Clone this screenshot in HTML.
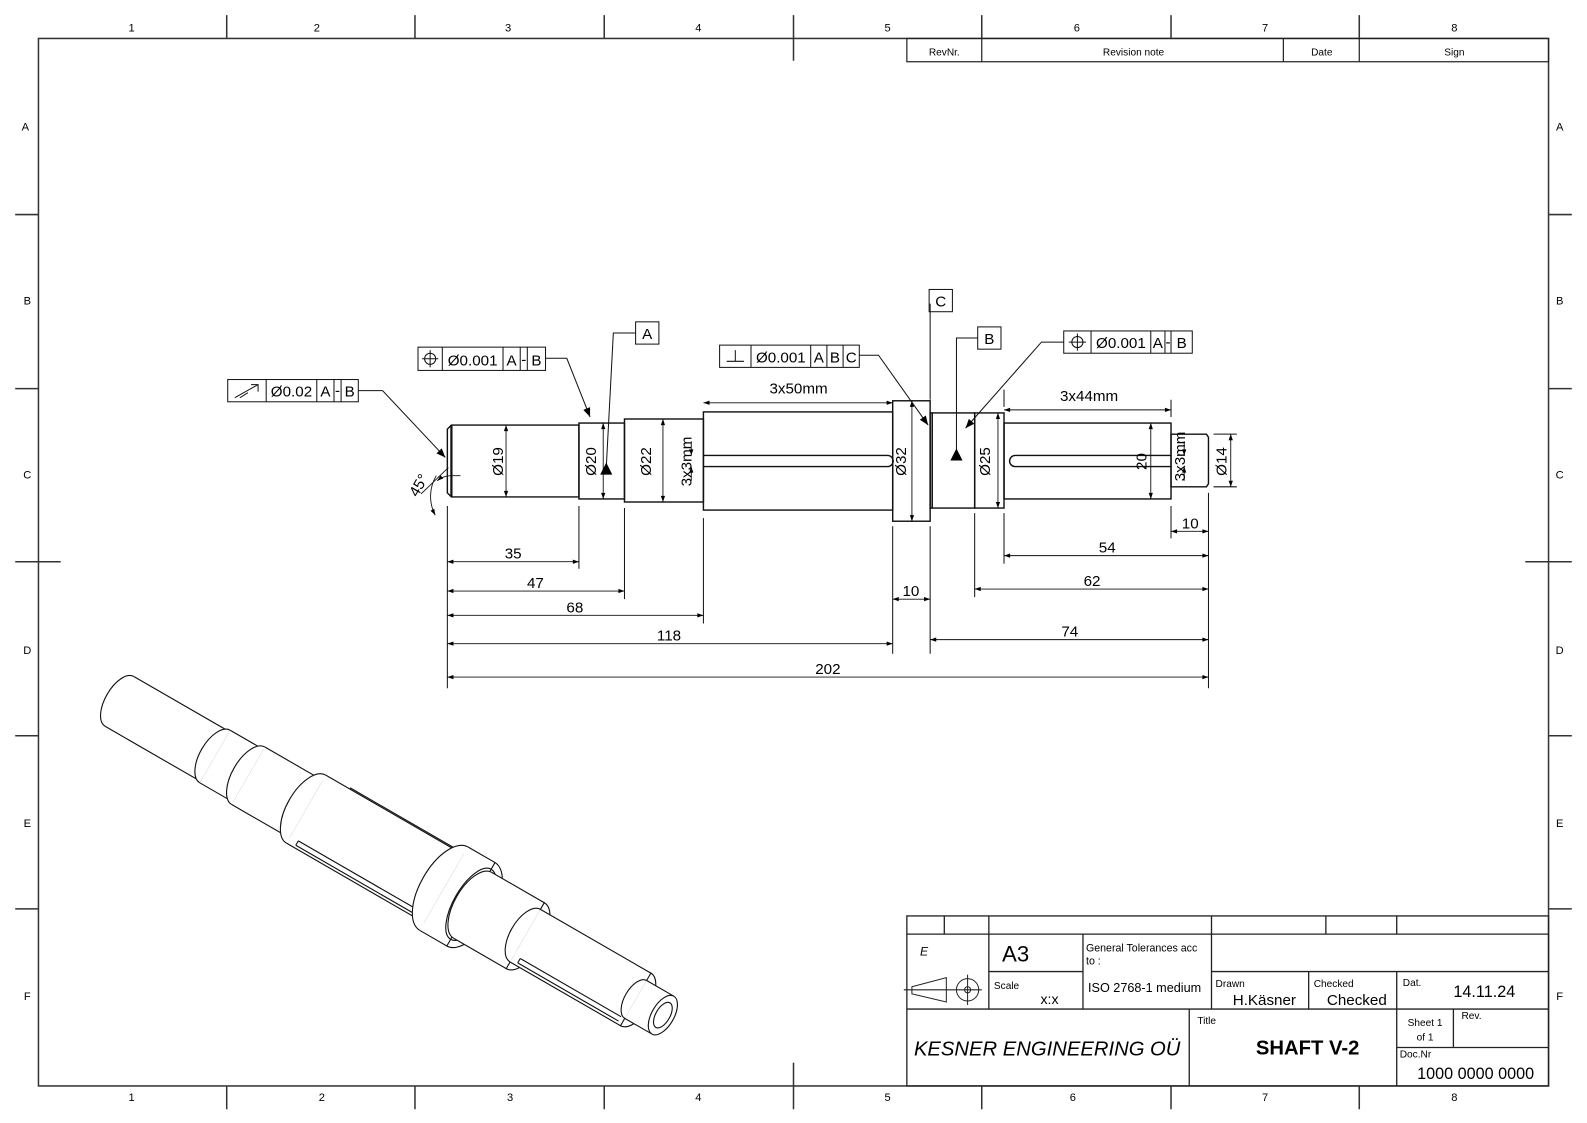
<!DOCTYPE html>
<html><head><meta charset="utf-8"><style>
html,body{margin:0;padding:0;background:#fff}
svg{display:block}
text{font-family:"Liberation Sans",Arial,sans-serif;fill:#000}
</style></head><body>
<svg width="1587" height="1123" viewBox="0 0 1568 1109.6" preserveAspectRatio="none" xmlns="http://www.w3.org/2000/svg">
<defs>
<marker id="a" viewBox="0 0 10 10" refX="10" refY="5" markerWidth="9" markerHeight="6" orient="auto-start-reverse" markerUnits="userSpaceOnUse"><path d="M0,1.5 L10,5 L0,8.5z" fill="#000"/></marker>
<marker id="b" viewBox="0 0 10 10" refX="10" refY="5" markerWidth="12" markerHeight="9" orient="auto" markerUnits="userSpaceOnUse"><path d="M0,1 L10,5 L0,9z" fill="#000"/></marker>
</defs>
<rect width="1568" height="1110" fill="#fff"/>
<!-- frame -->
<g stroke="#333" stroke-width="1.5" fill="none">
<rect x="38" y="38" width="1492" height="1035"/>
<path d="M224 15V38M410 15V38M597 15V38M784 15V60M970 15V38M1157 15V38M1343 15V38"/>
<path d="M224 1073V1096M410 1073V1096M597 1073V1096M784 1050V1096M970 1073V1096M1157 1073V1096M1343 1073V1096"/>
<path d="M15 212H38M15 384H38M15 555H60M15 727H38M15 898H38"/>
<path d="M1530 212H1553M1530 384H1553M1507 555H1553M1530 727H1553M1530 898H1553"/>
</g>
<g font-size="11" text-anchor="middle">
<text x="130" y="31">1</text><text x="313" y="31">2</text><text x="502" y="31">3</text><text x="690" y="31">4</text><text x="877" y="31">5</text><text x="1064" y="31">6</text><text x="1250" y="31">7</text><text x="1437" y="31">8</text>
<text x="130" y="1088">1</text><text x="318" y="1088">2</text><text x="504" y="1088">3</text><text x="690" y="1088">4</text><text x="877" y="1088">5</text><text x="1060" y="1088">6</text><text x="1250" y="1088">7</text><text x="1437" y="1088">8</text>
<text x="25" y="129">A</text><text x="27" y="301">B</text><text x="27" y="473">C</text><text x="27" y="646">D</text><text x="27" y="817">E</text><text x="27" y="988">F</text>
<text x="1541" y="129">A</text><text x="1541" y="301">B</text><text x="1541" y="473">C</text><text x="1541" y="646">D</text><text x="1541" y="817">E</text><text x="1541" y="988">F</text>
</g>
<!-- revision table -->
<g stroke="#222" stroke-width="1.2" fill="none"><rect x="896" y="38" width="634" height="23"/><path d="M970 38V61M1268 38V61M1343 38V61"/></g>
<g font-size="10" text-anchor="middle"><text x="933" y="55">RevNr.</text><text x="1120" y="55">Revision note</text><text x="1306" y="55">Date</text><text x="1437" y="55">Sign</text></g>

<!-- title block -->
<g stroke="#222" stroke-width="1.3" fill="none">
<rect x="896" y="905" width="634" height="168"/>
<path d="M896 923H1530M896 997H1530M977 960H1070M1197 960H1530"/>
<path d="M933 905V923M977 905V997M1197 905V997M1310 905V923M1380 905V923M1070 923V997M1293 960V997M1380 960V1073M1175 997V1073M1380 1035H1530M1436 997V1035"/>
<path d="M901 975L935 966V990L901 982ZM893 978H970M956 963V993" stroke-width="1"/>
<circle cx="956" cy="978" r="11" stroke-width="1"/><circle cx="956" cy="978" r="3" stroke-width="1"/>
</g>
<text x="909" y="944" font-size="12" font-style="italic">E</text>
<text x="990" y="950" font-size="22">A3</text>
<text x="982" y="977" font-size="10">Scale</text>
<text x="1028" y="992" font-size="14">x:x</text>
<text x="1073" y="940" font-size="10.5">General Tolerances acc</text>
<text x="1073" y="953" font-size="10.5">to :</text>
<text x="1075" y="980" font-size="12.5">ISO 2768-1 medium</text>
<text x="1201" y="975" font-size="10">Drawn</text>
<text x="1218" y="993" font-size="15">H.Käsner</text>
<text x="1298" y="975" font-size="10">Checked</text>
<text x="1311" y="993" font-size="15">Checked</text>
<text x="1386" y="974" font-size="10">Dat.</text>
<text x="1436" y="985" font-size="16">14.11.24</text>
<text x="1183" y="1012" font-size="10">Title</text>
<text x="1292" y="1042" font-size="20" font-weight="bold" text-anchor="middle">SHAFT V-2</text>
<text x="1408" y="1014" font-size="10" text-anchor="middle">Sheet 1</text>
<text x="1408" y="1028" font-size="10" text-anchor="middle">of 1</text>
<text x="1444" y="1007" font-size="10">Rev.</text>
<text x="1383" y="1045" font-size="10">Doc.Nr</text>
<text x="1458" y="1066" font-size="16" text-anchor="middle">1000 0000 0000</text>
<text x="903" y="1043" font-size="20" font-style="italic">KESNER ENGINEERING OÜ</text>

<!-- shaft front view -->
<g stroke="#111" stroke-width="1.4" fill="none">
<path d="M446 420H572V491H446L442 487V424Z"/>
<rect x="572" y="418" width="45" height="75"/>
<rect x="617" y="414" width="78" height="82"/>
<rect x="695" y="407" width="187" height="97"/>
<rect x="882" y="396" width="37" height="119"/>
<rect x="919" y="408" width="2" height="94"/>
<rect x="921" y="408" width="42" height="94"/>
<rect x="963" y="408" width="29" height="94"/>
<rect x="992" y="418" width="165" height="75"/>
<path d="M1157 429H1192L1194 432V478L1192 481H1157Z"/>
<path d="M695 450H877A5.5 5.5 0 0 1 877 461H695"/>
<path d="M1157 450H1003A5.5 5.5 0 0 0 1003 461H1157"/>
<path d="M446 420V491" stroke-width="2.2"/>
</g>
<!-- extension lines -->
<g stroke="#111" stroke-width="1" fill="none">
<path d="M442 500V680M572 500V562M617 502V592M695 512V616M882 520V646M919 520V646M919 395V300M963 507V590M992 507V557M992 402V385M1157 412V395M1157 500V532M1194 487V680"/>
<path d="M1199 429H1222M1199 481H1222"/>
</g>
<!-- dims -->
<g stroke="#111" stroke-width="0.9" fill="none" marker-start="url(#a)" marker-end="url(#a)">
<path d="M442 555H572"/><path d="M442 584H617"/><path d="M442 608H695"/><path d="M442 636H882"/><path d="M442 669H1194"/>
<path d="M1157 525H1194"/><path d="M992 549H1194"/><path d="M963 582H1194"/><path d="M919 632H1194"/><path d="M882 592H919"/>
<path d="M695 398H882"/><path d="M992 405H1157"/>
<path d="M500 420V491"/><path d="M596 418V493"/><path d="M655 414V496"/><path d="M901 396V515"/><path d="M986 408V502"/><path d="M1137 418V493"/><path d="M1216 429V481"/>
<path d="M683 436V450" marker-start="none"/><path d="M683 475V461" marker-start="none"/>
<path d="M1170 436V450" marker-start="none"/><path d="M1170 475V461" marker-start="none"/>
</g>
<g font-size="15" text-anchor="middle">
<text x="507" y="552">35</text><text x="529" y="581">47</text><text x="568" y="605">68</text><text x="661" y="633">118</text><text x="818" y="666">202</text>
<text x="1176" y="522">10</text><text x="1094" y="546">54</text><text x="1079" y="579">62</text><text x="1057" y="629">74</text><text x="900" y="589">10</text>
<text x="789" y="389">3x50mm</text><text x="1076" y="396">3x44mm</text>
<text transform="translate(497 456) rotate(-90)">Ø19</text>
<text transform="translate(589 456) rotate(-90)">Ø20</text>
<text transform="translate(643 456) rotate(-90)">Ø22</text>
<text transform="translate(683 456) rotate(-90)">3x3mm</text>
<text transform="translate(895 456) rotate(-90)">Ø32</text>
<text transform="translate(978 456) rotate(-90)">Ø25</text>
<text transform="translate(1133 456) rotate(-90)">20</text>
<text transform="translate(1171 451) rotate(-90)">3x3mm</text>
<text transform="translate(1212 456) rotate(-90)">Ø14</text>
<text transform="translate(418 482) rotate(-60)">45°</text>
</g>
<!-- 45 deg -->
<g stroke="#111" stroke-width="0.9" fill="none">
<path d="M431 470A40 40 0 0 0 430 509" marker-end="url(#a)"/>
<path d="M447 470A22 22 0 0 0 432 475" marker-end="url(#a)"/>
<path d="M416 488L443 462M446 470H455"/>
</g>

<!-- feature control frames -->
<g stroke="#111" stroke-width="1" fill="none">
<rect x="225" y="375" width="129" height="22"/><path d="M263 375V397M313 375V397M330 375V397M337 375V397"/>
<path d="M232 393L255 380M248 380H255V387M237 393L245 388" />
<path d="M354 386H378L440 452" marker-end="url(#b)"/>
<rect x="413" y="343" width="126" height="23"/><path d="M437 343V366M497 343V366M514 343V366M521 343V366"/>
<circle cx="425" cy="354.5" r="5.5"/><path d="M417 354.5H433M425 346V363"/>
<path d="M539 354H560L583 412" marker-end="url(#b)"/>
<rect x="628" y="318" width="23" height="22"/>
<path d="M628 329H606L599 462"/>
<rect x="711" y="341" width="138" height="22"/><path d="M742 341V363M801 341V363M817 341V363M833 341V363"/>
<path d="M718 357H735M726.5 346V357"/>
<path d="M849 351H868L917 420" marker-end="url(#b)"/>
<rect x="918" y="286" width="23" height="22"/>
<rect x="966" y="323" width="23" height="22"/>
<path d="M966 334H945V446"/>
<rect x="1051" y="327" width="127" height="22"/><path d="M1078 327V349M1137 327V349M1151 327V349M1157 327V349"/>
<circle cx="1064.5" cy="338" r="5.5"/><path d="M1056 338H1073M1064.5 329.5V346.5"/>
<path d="M1051 338H1029L954 423" marker-end="url(#b)"/>
</g>
<path d="M599 457L593 469H605Z" fill="#000"/>
<path d="M945 443L939 455H951Z" fill="#000"/>
<g font-size="15" text-anchor="middle">
<text x="288" y="392">Ø0.02</text><text x="321.5" y="392">A</text><text x="333.5" y="391">-</text><text x="345.5" y="392">B</text>
<text x="467" y="361">Ø0.001</text><text x="505.5" y="361">A</text><text x="517.5" y="360">-</text><text x="530" y="361">B</text>
<text x="639.5" y="335">A</text>
<text x="771.5" y="358">Ø0.001</text><text x="809" y="358">A</text><text x="825" y="358">B</text><text x="841" y="358">C</text>
<text x="929.5" y="303">C</text><text x="977.5" y="340">B</text>
<text x="1107.5" y="344">Ø0.001</text><text x="1144" y="344">A</text><text x="1154" y="343">-</text><text x="1167.5" y="344">B</text>
</g>

<!-- isometric view -->
<g transform="translate(118 693) rotate(30)" stroke="#111" stroke-width="1.1" fill="#fff">
<path d="M0 -28.4H109V28.4H0"/>
<path d="M0 -28.4A14 28.4 0 0 0 0 28.4"/>
<path d="M109 -30H147V30H109"/><path d="M109 -30A15 30 0 0 0 109 30"/>
<path d="M147 -32.8H213V32.8H147"/><path d="M147 -32.8A16 32.8 0 0 0 147 32.8"/>
<path d="M213 -38.8H370V38.8H213"/><path d="M213 -38.8A19 38.8 0 0 0 213 38.8"/>
<path d="M222 31H370M222 36H370M222 31V36" fill="none"/>
<path d="M240 -40H370" fill="none"/>
<ellipse cx="401" cy="0" rx="23" ry="47.6"/>
<path d="M370 -47.6H401V47.6H370"/><path d="M370 -47.6A23 47.6 0 0 0 370 47.6"/>
<ellipse cx="401" cy="0" rx="17" ry="40" fill="none"/>
<ellipse cx="463" cy="0" rx="18" ry="37.6"/>
<path d="M403 -37.6H463V37.6H403"/><path d="M403 -37.6A18 37.6 0 0 0 403 37.6"/>
<ellipse cx="589" cy="0" rx="15" ry="30"/>
<path d="M463 -30H589V30H463"/><path d="M463 -30A15 30 0 0 0 463 30"/>
<path d="M470 22H585M470 27H585M470 22V27" fill="none"/>
<path d="M589 -21.6H620V21.6H589"/><path d="M589 -21.6A11 21.6 0 0 0 589 21.6"/>
<ellipse cx="620" cy="0" rx="11" ry="21.6"/>
<ellipse cx="620" cy="0" rx="7" ry="14" fill="none"/>
</g>
</svg>
</body></html>
